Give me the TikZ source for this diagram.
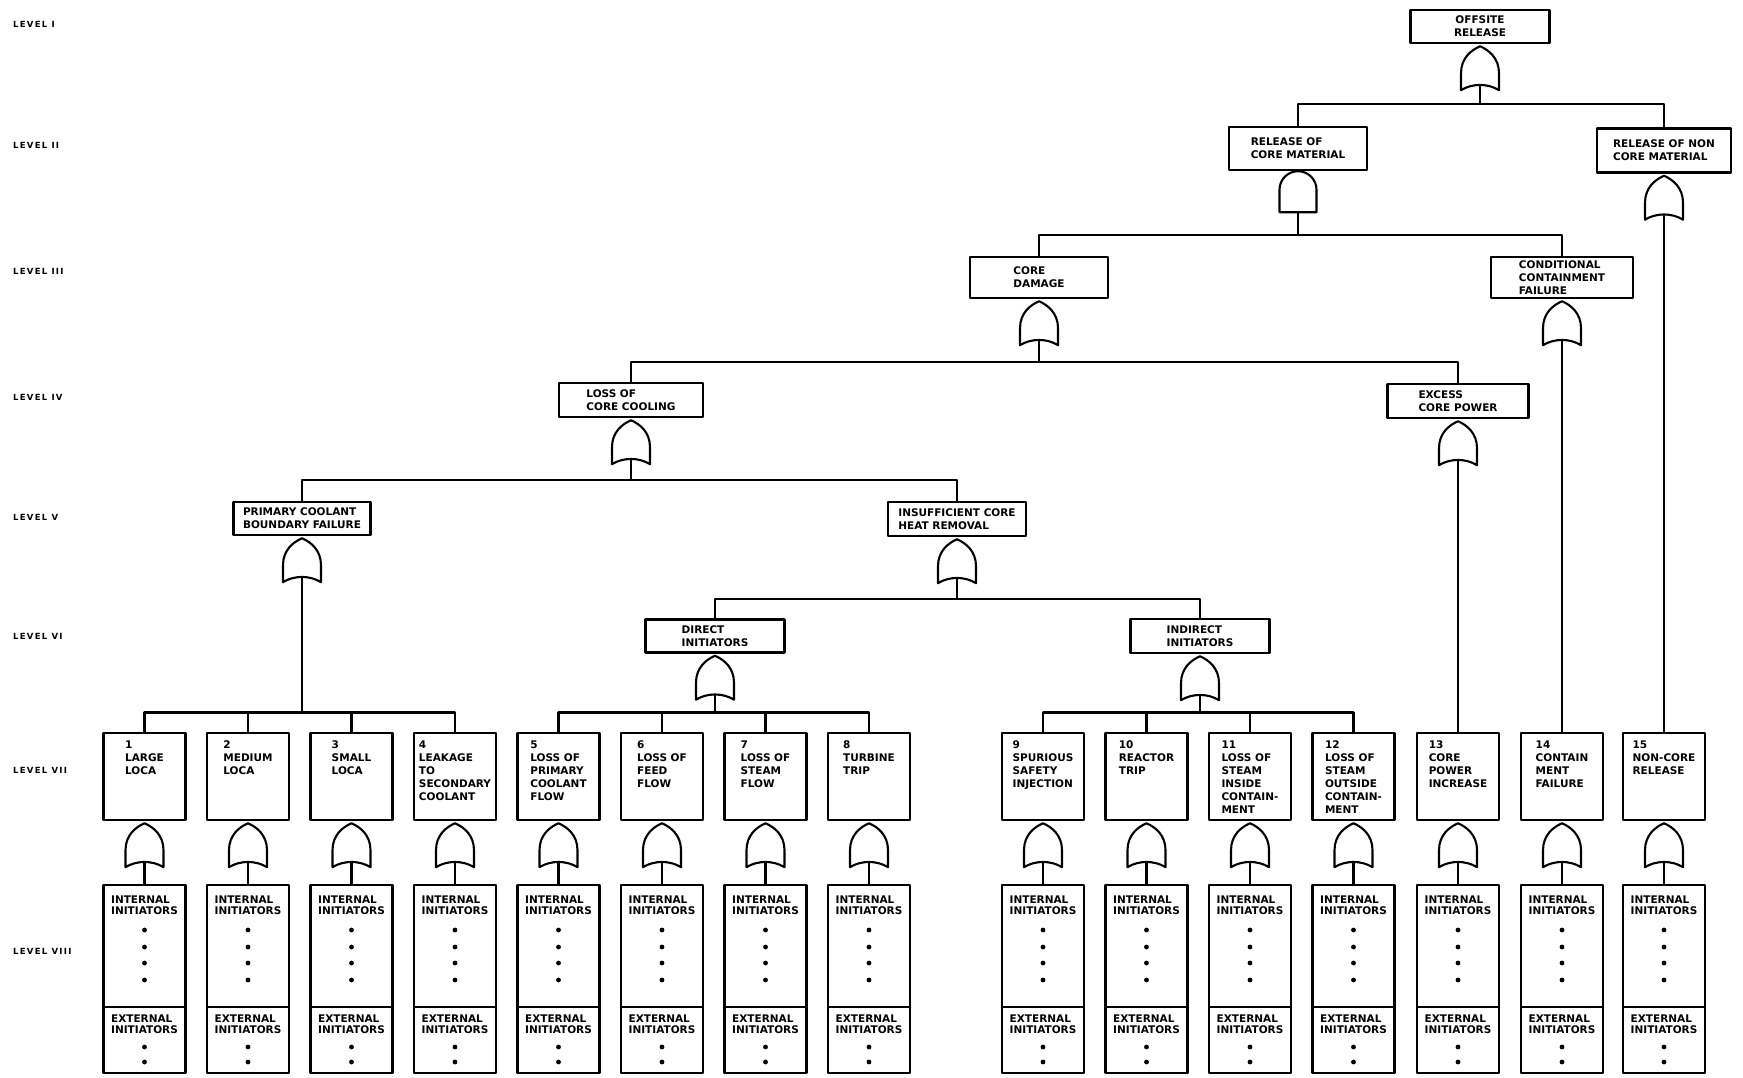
\documentclass[tikz,border=0pt]{standalone}
\usepackage{fontspec}
\newfontfamily\ftafont{DejaVu Sans}
\newfontfamily\lvlfont{DejaVu Sans}[LetterSpace=15]

\tikzset{
  orgate/.pic={
    \draw[line width=2.1pt,fill=white] (-19,44) -- (-19,27)
      .. controls (-19,12) and (-9,4) .. (0,0)
      .. controls (9,4) and (19,12) .. (19,27)
      -- (19,44) .. controls (8,37) and (-8,37) .. (-19,44) -- cycle;
    \coordinate (-bot) at (0,38.75);
  },
  andgate/.pic={
    \draw[line width=2.1pt,fill=white] (-18.5,41) -- (-18.5,18.5)
      .. controls (-18.5,8.3) and (-10.2,0) .. (0,0)
      .. controls (10.2,0) and (18.5,8.3) .. (18.5,18.5)
      -- (18.5,41) -- cycle;
    \coordinate (-bot) at (0,41);
  }
}

\begin{document}
\begin{tikzpicture}[x=1pt,y=-1pt,line join=round,
  box/.style={draw,line width=2.4pt,inner sep=2pt,align=left,
    font=\ftafont\bfseries\fontsize{10.5pt}{13pt}\selectfont},
  leaf/.style={draw,line width=2.4pt,minimum width=82pt,minimum height=87pt},
  ibox/.style={draw,line width=2.4pt,minimum width=82pt,minimum height=188pt},
  ltxt/.style={inner sep=2pt,anchor=north,align=left,
    font=\ftafont\bfseries\fontsize{10.5pt}{13pt}\selectfont},
  itxt/.style={inner sep=2pt,anchor=north,align=left,
    font=\ftafont\bfseries\fontsize{10.5pt}{11pt}\selectfont},
  lvl/.style={anchor=west,inner sep=0pt,
    font=\lvlfont\bfseries\fontsize{8.5pt}{9pt}\selectfont},
  wire/.style={line width=2.2pt}]
  \fill[white] (0,0) rectangle (1743,1077);
  \useasboundingbox (0,0) rectangle (1743,1077);

  % level labels
  \foreach \n/\y in {I/24.5,II/145.6,III/271,IV/397,V/517,VI/636,VII/770,VIII/951.5}
    \node[lvl] (lv\n) at (13,\y) {LEVEL \n};

  % events, levels I to VI
  \node[box,align=center,minimum width=139pt,minimum height=33pt] (offrel) at (1480,26.5) {OFFSITE\\RELEASE};
  \node[box,minimum width=138pt,minimum height=43pt] (relcore) at (1298,148.5) {RELEASE OF\\CORE MATERIAL};
  \node[box,minimum width=134pt,minimum height=44pt] (relnon) at (1664,150.5) {RELEASE OF NON\\CORE MATERIAL};
  \node[box,minimum width=138pt,minimum height=41pt] (cdam) at (1039,277.5) {CORE\\DAMAGE};
  \node[box,minimum width=142pt,minimum height=41pt] (ccf) at (1562,277.5) {CONDITIONAL\\CONTAINMENT\\FAILURE};
  \node[box,minimum width=144pt,minimum height=34pt] (lcc) at (631,400) {LOSS OF\\CORE COOLING};
  \node[box,minimum width=141pt,minimum height=34pt] (ecp) at (1458,401) {EXCESS\\CORE POWER};
  \node[box,minimum width=137pt,minimum height=33pt] (pcbf) at (302,518.5) {PRIMARY COOLANT\\BOUNDARY FAILURE};
  \node[box,minimum width=138pt,minimum height=34pt] (ichr) at (957,519) {INSUFFICIENT CORE\\HEAT REMOVAL};
  \node[box,minimum width=139pt,minimum height=33pt] (dinit) at (715,636) {DIRECT\\INITIATORS};
  \node[box,minimum width=139pt,minimum height=34pt] (iinit) at (1200,636) {INDIRECT\\INITIATORS};

  \pic (grel) at ([yshift=-2pt]offrel.south) {orgate};
  \pic (grelcore) at (relcore.south) {andgate};
  \pic (grelnon) at ([yshift=-2pt]relnon.south) {orgate};
  \pic (gcdam) at ([yshift=-2pt]cdam.south) {orgate};
  \pic (gccf) at ([yshift=-2pt]ccf.south) {orgate};
  \pic (glcc) at ([yshift=-2pt]lcc.south) {orgate};
  \pic (gecp) at ([yshift=-2pt]ecp.south) {orgate};
  \pic (gpcbf) at ([yshift=-2pt]pcbf.south) {orgate};
  \pic (gichr) at ([yshift=-2pt]ichr.south) {orgate};
  \pic (gdinit) at ([yshift=-2pt]dinit.south) {orgate};
  \pic (giinit) at ([yshift=-2pt]iinit.south) {orgate};

  % initiating events, levels VII and VIII
  \foreach \i/\x/\txt in {1/144.5/{1\\LARGE\\LOCA},2/248/{2\\MEDIUM\\LOCA},
      3/351.5/{3\\SMALL\\LOCA},4/455/{4\\LEAKAGE\\TO\\SECONDARY\\COOLANT},
      5/558.5/{5\\LOSS OF\\PRIMARY\\COOLANT\\FLOW},6/662/{6\\LOSS OF\\FEED\\FLOW},
      7/765.5/{7\\LOSS OF\\STEAM\\FLOW},8/869/{8\\TURBINE\\TRIP},
      9/1043/{9\\SPURIOUS\\SAFETY\\INJECTION},10/1146.5/{10\\REACTOR\\TRIP},
      11/1250/{11\\LOSS OF\\STEAM\\INSIDE\\CONTAIN-\\MENT},
      12/1353.5/{12\\LOSS OF\\STEAM\\OUTSIDE\\CONTAIN-\\MENT},
      13/1458/{13\\CORE\\POWER\\INCREASE},14/1562/{14\\CONTAIN\\MENT\\FAILURE},
      15/1664/{15\\NON-CORE\\RELEASE}}{
    \node[leaf] (e\i) at (\x,776.5) {};
    \node[ltxt] (t\i) at ([yshift=-7pt]e\i.north) {\txt};
    \pic (gl\i) at ([yshift=-2pt]e\i.south) {orgate};
    \node[ibox] (ini\i) at (\x,979) {};
    \draw[wire] (gl\i-bot) -- (ini\i.north);
    \draw[line width=1.6pt] (ini\i.west |- 0,1007) -- (ini\i.east |- 0,1007);
    \node[itxt] (int\i) at ([yshift=-10pt]ini\i.north) {INTERNAL\\INITIATORS};
    \node[itxt] (ext\i) at (\x,1013) {EXTERNAL\\INITIATORS};
    \foreach \d in {930,947,963,980,1047,1062}
      \fill (\x,\d) circle (2.4);
  }

  % connectors
  \draw[wire] (grel-bot) -- (grel-bot |- 0,104) -| (relcore.north);
  \draw[wire] (grel-bot) -- (grel-bot |- 0,104) -| (relnon.north);
  \draw[wire] (grelcore-bot) -- (grelcore-bot |- 0,235) -| (cdam.north);
  \draw[wire] (grelcore-bot) -- (grelcore-bot |- 0,235) -| (ccf.north);
  \draw[wire] (grelnon-bot) -- (e15.north);
  \draw[wire] (gcdam-bot) -- (gcdam-bot |- 0,362) -| (lcc.north);
  \draw[wire] (gcdam-bot) -- (gcdam-bot |- 0,362) -| (ecp.north);
  \draw[wire] (gccf-bot) -- (e14.north);
  \draw[wire] (glcc-bot) -- (glcc-bot |- 0,480) -| (pcbf.north);
  \draw[wire] (glcc-bot) -- (glcc-bot |- 0,480) -| (ichr.north);
  \draw[wire] (gecp-bot) -- (e13.north);
  \draw[wire] (gichr-bot) -- (gichr-bot |- 0,599) -| (dinit.north);
  \draw[wire] (gichr-bot) -- (gichr-bot |- 0,599) -| (iinit.north);
  \foreach \i in {1,...,4}
    \draw[wire] (gpcbf-bot) -- (gpcbf-bot |- 0,712.5) -| (e\i.north);
  \foreach \i in {5,...,8}
    \draw[wire] (gdinit-bot) -- (gdinit-bot |- 0,712.5) -| (e\i.north);
  \foreach \i in {9,...,12}
    \draw[wire] (giinit-bot) -- (giinit-bot |- 0,712.5) -| (e\i.north);
\end{tikzpicture}
\end{document}
